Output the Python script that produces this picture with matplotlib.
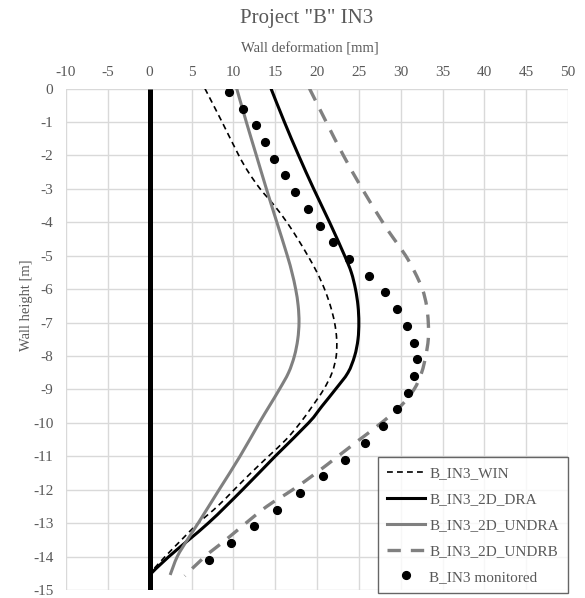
import numpy as np
import matplotlib.pyplot as plt
from matplotlib.path import Path
from matplotlib.patches import PathPatch

plt.rcParams['font.family'] = ['Liberation Serif', 'DejaVu Serif']
plt.rcParams['axes.unicode_minus'] = False

# wall deformation profiles [mm] vs depth [m]
win_depth = [0, -1, -2, -2.5, -3, -3.5, -4, -4.5, -5, -5.5, -6, -6.5, -7, -7.5, -8, -8.5,
             -9, -9.5, -10, -10.5, -11, -11.5, -12, -12.5, -13, -13.5, -14, -14.45]
win_defl = [6.6, 8.65, 10.65, 11.8, 13.2, 14.9, 16.4, 17.7, 18.9, 20.0, 20.9, 21.6, 22.1,
            22.35, 22.3, 21.8, 20.8, 19.45, 18.0, 16.3, 14.2, 12.1, 10.1, 8.1, 5.8, 3.8,
            1.85, 0.2]

dra_depth = [0, -1, -2, -3, -4, -5, -5.5, -6, -6.5, -7, -7.5, -8, -8.5, -9, -9.5, -10,
             -11, -12, -13, -14, -14.55]
dra_defl = [14.5, 16.1, 17.8, 19.6, 21.5, 23.3, 24.1, 24.6, 24.9, 25.0, 24.9, 24.5, 23.7,
            22.2, 20.6, 19.0, 15.0, 11.1, 7.0, 2.3, 0.0]

undra_depth = [0, -1, -2, -3, -4, -5, -5.5, -6, -6.5, -7, -7.5, -8, -8.5, -9, -9.5, -10,
               -11, -12, -13, -13.5, -14, -14.55]
undra_defl = [10.4, 11.55, 12.75, 13.95, 15.2, 16.45, 17.0, 17.45, 17.75, 17.85, 17.7, 17.3,
              16.6, 15.5, 14.3, 13.1, 10.8, 8.3, 5.8, 4.5, 3.3, 2.45]

undrb_depth = [0, -1, -2, -3, -4, -4.5, -5, -5.5, -6, -6.5, -7, -7.5, -8, -8.5, -9, -9.5,
               -10, -10.5, -11, -11.5, -12, -12.5, -13, -13.5, -14, -14.58]
undrb_defl = [19.1, 21.1, 23.15, 25.4, 27.85, 29.2, 30.6, 31.7, 32.6, 33.1, 33.3, 33.3,
              33.0, 32.5, 31.6, 30.0, 27.7, 25.1, 22.5, 19.9, 17.1, 14.0, 11.5, 9.1, 6.6, 4.2]

mon_depth = np.arange(-0.1, -14.2, -0.5)
mon_defl = [9.5, 11.2, 12.7, 13.8, 14.9, 16.2, 17.4, 18.9, 20.4, 21.9, 23.8, 26.2, 28.1,
            29.6, 30.8, 31.6, 31.9, 31.6, 30.9, 29.6, 27.9, 25.7, 23.3, 20.7, 18.0, 15.2,
            12.5, 9.7, 7.1]

wall_x = [0, 0]
wall_y = [0, -15]

gray = '#808080'
text_c = '#595959'


def smooth_path(x, y):
    # cubic bezier through the points (catmull-rom style control points)
    p = np.column_stack([x, y]).astype(float)
    ext = np.vstack([p[0], p, p[-1]])
    verts = [p[0]]
    codes = [Path.MOVETO]
    for i in range(1, len(ext) - 2):
        c1 = ext[i] + (ext[i + 1] - ext[i - 1]) / 6
        c2 = ext[i + 1] - (ext[i + 2] - ext[i]) / 6
        verts += [c1, c2, ext[i + 1]]
        codes += [Path.CURVE4] * 3
    return Path(verts, codes)


def smooth_line(ax, x, y, label, **kw):
    ax.add_patch(PathPatch(smooth_path(x, y), fill=False, capstyle='butt', **kw))
    ax.plot([], [], label=label, color=kw['edgecolor'], lw=kw['lw'], ls=kw['ls'])


fig = plt.figure(figsize=(5.85, 5.98), dpi=100)
ax = fig.add_axes([66 / 585, 1 - 590 / 598, (568 - 66) / 585, (590 - 88.5) / 598])

ax.plot(wall_x, wall_y, color='black', lw=3.6, solid_capstyle='butt')
smooth_line(ax, win_defl, win_depth, 'B_IN3_WIN', edgecolor='black', lw=1.2, ls=(0, (3.5, 2.5)))
smooth_line(ax, dra_defl, dra_depth, 'B_IN3_2D_DRA', edgecolor='black', lw=2.2, ls='-')
smooth_line(ax, undra_defl, undra_depth, 'B_IN3_2D_UNDRA', edgecolor=gray, lw=2.2, ls='-')
smooth_line(ax, undrb_defl, undrb_depth, 'B_IN3_2D_UNDRB', edgecolor=gray, lw=2.4, ls=(0, (4, 3)))
ax.plot(mon_defl, mon_depth, 'o', color='black', ms=5.6, label='B_IN3 monitored')

ax.set_xlim(-10, 50)
ax.set_ylim(-15, 0)
ax.set_xticks(range(-10, 51, 5))
ax.set_yticks(range(-15, 1, 1))
ax.xaxis.tick_top()
ax.xaxis.set_label_position('top')
ax.tick_params(length=0, labelsize=11, labelcolor=text_c)
ax.tick_params(axis='y', pad=9)
ax.tick_params(axis='x', pad=7)
ax.grid(True, color='#d9d9d9', lw=1)
ax.set_axisbelow(True)
for s in ax.spines.values():
    s.set_visible(False)

ax.set_xlabel('Wall deformation [mm]', fontsize=10.5, color=text_c, va='center')
ax.xaxis.set_label_coords(0.486, 1.08)
ax.set_ylabel('Wall height [m]', fontsize=10.5, color=text_c, va='center')
ax.yaxis.set_label_coords(-0.078, 0.568)
fig.text(307 / 585, 1 - 18 / 598, 'Project "B" IN3', ha='center', va='center',
         fontsize=15, color=text_c)

leg = ax.legend(loc='lower right', bbox_to_anchor=(1.0, -0.006), fontsize=11,
                frameon=True, fancybox=False, borderpad=0.6, handlelength=2.45,
                handletextpad=0.3, labelspacing=0.8, borderaxespad=0)
leg.get_frame().set_edgecolor('#404040')
leg.get_frame().set_linewidth(1)
for t in leg.get_texts():
    t.set_color(text_c)

fig.savefig('out.png', dpi=100)
